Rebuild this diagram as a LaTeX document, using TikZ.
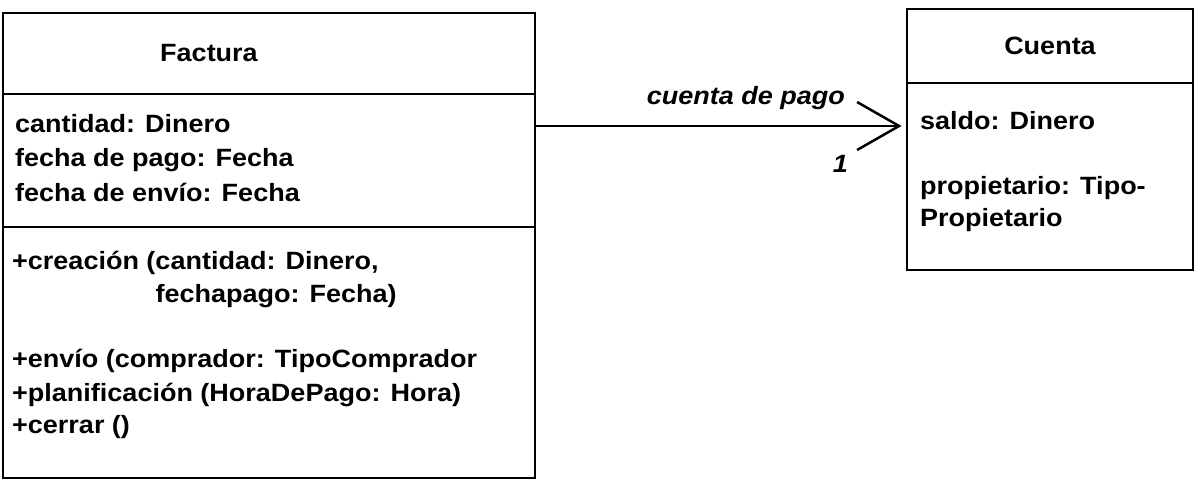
\documentclass[tikz,border=0pt]{standalone}
\usepackage{fontspec}
\setmainfont[FakeStretch=1.08]{Liberation Sans}
\usetikzlibrary{arrows.meta}

\tikzstyle{classbox}=[draw,line width=2.8pt,rectangle,inner sep=0pt]
\tikzstyle{txt}=[inner sep=0pt,anchor=base west,font=\fontsize{25}{33}\selectfont\bfseries]
\tikzstyle{role}=[inner sep=0pt,anchor=base east,font=\fontsize{25}{33}\selectfont\bfseries\itshape]
\tikzstyle{assoc}=[line width=2.5pt,-{Straight Barb[length=42pt,width=48pt]},shorten >=4pt]

\begin{document}
\begin{tikzpicture}[x=1pt,y=-1pt]
            \useasboundingbox (0,0) rectangle (1203,486);
            % Factura
            \node (factura) at (269,245.5) [classbox,minimum width=532pt,minimum height=465pt] {};
            \draw[line width=2.8pt] (factura.west |- 0,94) -- (factura.east |- 0,94);
            \draw[line width=2.8pt] (factura.west |- 0,227) -- (factura.east |- 0,227);
            \node (ftitle) at (209,62) [txt,anchor=base] {Factura};
            \node (cantidad) at (15,133) [txt] {cantidad: Dinero};
            \node (fpago) at (15,167) [txt] {fecha de pago: Fecha};
            \node (fenvio) at (15,202) [txt] {fecha de envío: Fecha};
            \node (creacion) at (12,270) [txt] {+creación (cantidad: Dinero,};
            \node (fechapago) at (12,303) [txt] {\phantom{+creación (}fechapago: Fecha)};
            \node (envio) at (12,368) [txt] {+envío (comprador: TipoComprador};
            \node (planif) at (12,402) [txt] {+planificación (HoraDePago: Hora)};
            \node (cerrar) at (12,433) [txt] {+cerrar ()};
            % Cuenta
            \node (cuenta) at (1050,139.5) [classbox,minimum width=286pt,minimum height=261pt] {};
            \draw[line width=2.8pt] (cuenta.west |- 0,83) -- (cuenta.east |- 0,83);
            \node (ctitle) at (1050,55) [txt,anchor=base] {Cuenta};
            \node (saldo) at (920,130) [txt] {saldo: Dinero};
            \node (prop) at (920,195) [txt] {propietario: Tipo-};
            \node (prop2) at (920,227) [txt] {Propietario};
            % association
            \coordinate (arow) at (0,126);
            \draw[assoc] (factura.east |- arow) -- (cuenta.west |- arow);
            \node (rolename) at (845,105) [role] {cuenta de pago};
            \node (mult) at (848,173) [role] {1};
        \end{tikzpicture}
\end{document}
